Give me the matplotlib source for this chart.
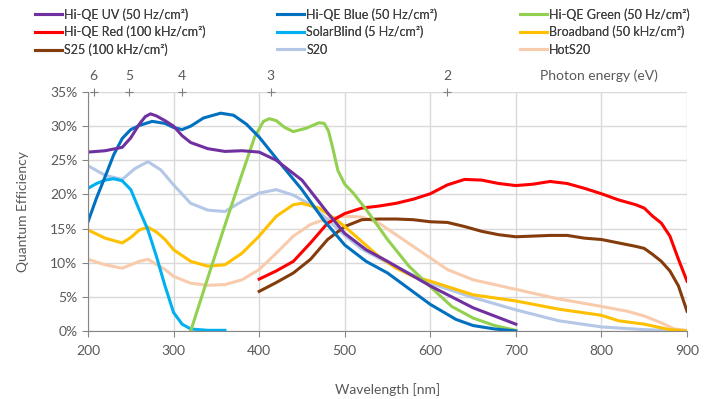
import matplotlib
matplotlib.use("Agg")
import matplotlib.pyplot as plt
from matplotlib.ticker import PercentFormatter

plt.rcParams['font.family'] = ['Lato', 'DejaVu Sans']

# wavelength [nm] / quantum efficiency [%]
uv_wl = [200, 220, 240, 250, 260, 267, 273, 280, 290, 300, 310, 320, 340, 360, 380, 400, 420, 450, 480, 500, 525, 550, 600, 650, 700]
uv_qe = [26.2, 26.4, 26.9, 28.3, 30.3, 31.4, 31.8, 31.5, 30.8, 30.0, 28.6, 27.6, 26.7, 26.3, 26.4, 26.2, 25.0, 22.1, 17.3, 14.3, 11.9, 10.2, 6.6, 3.4, 1.0]

blue_wl = [200, 210, 220, 230, 240, 250, 260, 275, 290, 300, 310, 320, 335, 355, 370, 385, 400, 425, 450, 475, 500, 525, 550, 575, 600, 630, 650, 675, 700]
blue_qe = [16.0, 19.5, 22.6, 25.8, 28.2, 29.5, 30.1, 30.7, 30.4, 29.8, 29.5, 30.0, 31.2, 31.9, 31.6, 30.3, 28.4, 24.5, 20.7, 16.3, 12.6, 10.2, 8.5, 6.2, 3.9, 1.7, 0.8, 0.3, 0.0]

green_wl = [320, 340, 360, 380, 395, 405, 412, 420, 430, 440, 455, 470, 476, 481, 486, 492, 500, 510, 525, 550, 575, 600, 625, 650, 675, 700]
green_qe = [0.0, 7.8, 15.5, 23.0, 28.5, 30.7, 31.1, 30.8, 29.8, 29.2, 29.7, 30.5, 30.4, 29.3, 26.8, 23.5, 21.5, 20.2, 17.8, 13.4, 9.5, 6.5, 3.6, 1.9, 0.8, 0.1]

red_wl = [400, 420, 440, 460, 480, 500, 520, 540, 560, 580, 600, 620, 640, 660, 680, 700, 720, 740, 760, 780, 800, 820, 840, 850, 860, 870, 880, 890, 900]
red_qe = [7.6, 8.8, 10.2, 12.9, 15.8, 17.2, 18.0, 18.3, 18.7, 19.3, 20.1, 21.4, 22.2, 22.1, 21.6, 21.3, 21.5, 21.9, 21.6, 20.9, 20.1, 19.2, 18.5, 18.0, 16.8, 15.8, 13.9, 10.5, 7.3]

solar_wl = [200, 210, 220, 230, 240, 250, 260, 270, 280, 290, 300, 310, 320, 340, 360]
solar_qe = [20.9, 21.6, 22.1, 22.3, 22.0, 20.7, 17.7, 14.8, 10.9, 6.6, 2.7, 1.0, 0.3, 0.1, 0.1]

broad_wl = [200, 220, 240, 250, 260, 270, 280, 290, 300, 320, 340, 360, 380, 400, 420, 440, 450, 470, 490, 500, 520, 540, 560, 580, 600, 650, 700, 750, 800, 820, 850, 880, 900]
broad_qe = [14.8, 13.6, 12.9, 13.7, 14.8, 15.2, 14.5, 13.4, 11.9, 10.2, 9.5, 9.7, 11.4, 13.9, 16.8, 18.5, 18.7, 18.0, 16.3, 15.3, 13.1, 10.9, 9.2, 8.0, 7.3, 5.3, 4.4, 3.2, 2.3, 1.5, 1.0, 0.2, 0.0]

s25_wl = [400, 420, 440, 460, 480, 500, 520, 540, 560, 580, 600, 620, 640, 660, 680, 700, 720, 740, 760, 780, 800, 820, 840, 850, 860, 870, 880, 890, 900]
s25_qe = [5.8, 7.1, 8.5, 10.5, 13.4, 15.3, 16.3, 16.4, 16.4, 16.3, 16.0, 15.9, 15.3, 14.6, 14.1, 13.8, 13.9, 14.0, 14.0, 13.6, 13.4, 12.9, 12.4, 12.1, 11.2, 10.2, 8.8, 6.6, 2.9]

s20_wl = [200, 220, 240, 255, 270, 285, 300, 320, 340, 360, 380, 400, 420, 440, 460, 480, 500, 520, 550, 600, 650, 700, 750, 800, 850, 900]
s20_qe = [24.2, 22.8, 22.2, 23.8, 24.8, 23.6, 21.4, 18.7, 17.7, 17.5, 19.0, 20.2, 20.7, 19.9, 18.5, 16.3, 14.0, 12.0, 10.0, 7.0, 4.9, 3.1, 1.5, 0.6, 0.2, 0.0]

hot_wl = [200, 220, 240, 260, 270, 290, 300, 320, 340, 360, 380, 400, 420, 440, 460, 480, 500, 520, 540, 560, 580, 600, 620, 650, 700, 750, 800, 830, 850, 870, 885, 900]
hot_qe = [10.5, 9.7, 9.2, 10.2, 10.5, 9.0, 8.0, 7.0, 6.7, 6.8, 7.5, 9.0, 11.4, 13.9, 15.6, 16.5, 16.8, 16.7, 15.8, 14.1, 12.4, 10.7, 9.0, 7.5, 6.1, 4.7, 3.6, 2.9, 2.2, 1.2, 0.3, 0.1]

series = [
    ("Hi-QE UV (50 Hz/cm²)", uv_wl, uv_qe, "#7030A0"),
    ("Hi-QE Blue (50 Hz/cm²)", blue_wl, blue_qe, "#0070C0"),
    ("Hi-QE Green (50 Hz/cm²)", green_wl, green_qe, "#92D050"),
    ("Hi-QE Red (100 kHz/cm²)", red_wl, red_qe, "#FF0000"),
    ("SolarBlind (5 Hz/cm²)", solar_wl, solar_qe, "#00B0F0"),
    ("Broadband (50 kHz/cm²)", broad_wl, broad_qe, "#FFC000"),
    ("S25 (100 kHz/cm²)", s25_wl, s25_qe, "#843C0C"),
    ("S20", s20_wl, s20_qe, "#B4C7E7"),
    ("HotS20", hot_wl, hot_qe, "#F8CBAD"),
]

energies = [6, 5, 4, 3, 2]

grey = "#595959"

fig = plt.figure(figsize=(7.25, 3.99), dpi=100)
ax = fig.add_axes([0.1214, 0.1704, 0.8262, 0.599])

handles = {}
# draw so that the first legend series ends up on top like the original
for name, wl, qe, col in reversed(series):
    handles[name], = ax.plot(wl, qe, color=col, lw=2.2, label=name,
                             solid_joinstyle='round')

ax.set_xlim(200, 900)
ax.set_ylim(0, 35)
ax.set_xticks(range(200, 901, 100))
ax.set_yticks(range(0, 36, 5))
ax.yaxis.set_major_formatter(PercentFormatter(decimals=0))
ax.grid(True, color="#D9D9D9", lw=1)
ax.set_axisbelow(True)
for s in ["top", "right"]:
    ax.spines[s].set_visible(False)
for s in ["left", "bottom"]:
    ax.spines[s].set_color("#868686")
ax.tick_params(colors=grey, labelsize=10, length=4, color="#868686")
ax.tick_params(axis='x', pad=6)
ax.set_xlabel("Wavelength [nm]", color=grey, fontsize=10, labelpad=19)
ax.set_ylabel("Quantum Efficiency", color=grey, fontsize=10, labelpad=15)

# photon energy markers along the top
for e in energies:
    wl = 1240.0 / e
    ax.plot([wl], [35], marker='+', color="#7F7F7F", ms=6, mew=0.8, clip_on=False)
    ax.text(wl, 36.4, str(e), color=grey, fontsize=10, ha='center', va='bottom')
ax.text(728, 36.4, "Photon energy (eV)", color=grey, fontsize=10, ha='left', va='bottom')

# one legend per column, placed like the original
col_x = [0.048, 0.382, 0.717]
for c in range(3):
    names = [series[r * 3 + c][0] for r in range(3)]
    leg = fig.legend([handles[n] for n in names], names, loc='upper left',
                     bbox_to_anchor=(col_x[c], 0.98), frameon=False,
                     fontsize=9, handlelength=2.2, handletextpad=0.15,
                     labelspacing=0.42, borderpad=0, borderaxespad=0,
                     labelcolor="#404040")
    fig.add_artist(leg)

fig.savefig("out.png", dpi=100)
